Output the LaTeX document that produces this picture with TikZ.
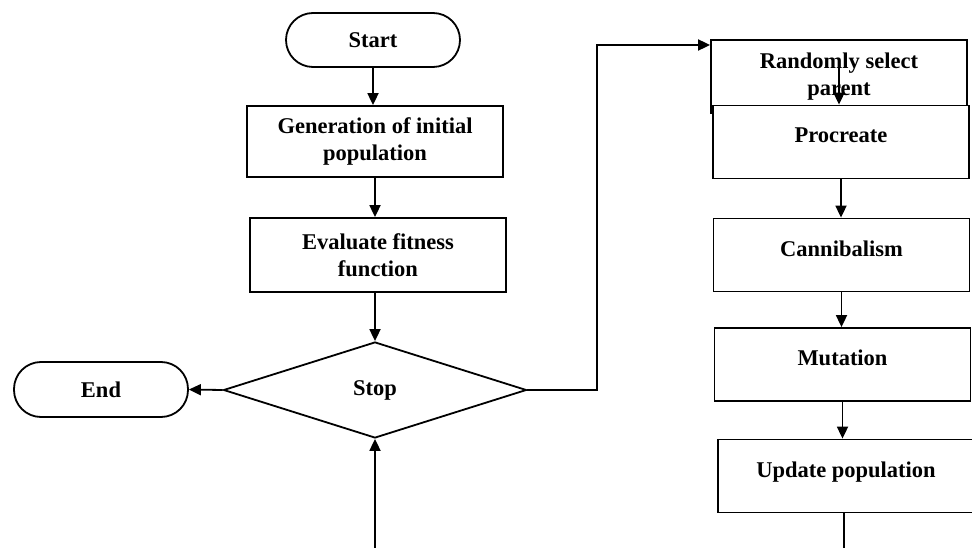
\documentclass[tikz,border=0pt]{standalone}
\usepackage{fontspec}
\setmainfont{Liberation Serif}
\usetikzlibrary{shapes.geometric,arrows.meta}

\begin{document}
\begin{tikzpicture}[x=1pt, y=-1pt, line width=1.8pt,
        >={Triangle[length=12pt,width=11pt]},
        every node/.style={font=\fontsize{22.5}{27}\selectfont\bfseries},
        pill/.style={draw, rounded corners=27pt, minimum width=174pt, minimum height=54pt, inner sep=0pt},
        box/.style={draw, fill=white, align=center, minimum width=256pt, minimum height=73pt, inner sep=0pt},
        onebox/.style={box, text depth=13pt}]

        \useasboundingbox (0,0) rectangle (972,548);

        \node[pill] (start) at (373,40) {Start};
        \node[box, minimum height=71pt] (gen) at (375,141.5) {Generation of initial\\population};
        \node[box, minimum height=74pt] (eval) at (378,255) {Evaluate fitness\\function};
        \node[draw, diamond, minimum width=303pt, minimum height=96pt, inner sep=0pt] (stop) at (375,390) {Stop};
        \node[pill, minimum height=55pt] (end) at (101,389.5) {End};

        \draw[->] (start.south) -- (start.south |- gen.north);
        \draw[->] (gen.south) -- (gen.south |- eval.north);
        \draw[->] (eval.south -| stop.north) -- (stop.north);
        \draw[->] (stop.west) -- (end.east);

        \node[box] (rand) at (839,76.5) {Randomly select\\parent};
        \foreach \name/\x/\y/\txt in {proc/841/142/Procreate, cann/841.5/255/Cannibalism,
                mut/842.5/364.5/Mutation, upd/846/476/Update population}
        {
                \node[onebox] (\name) at (\x,\y) {\txt};
        }

        \coordinate (turn) at (597,45);
        \draw[->] (stop.east) -| (turn) -- (turn -| rand.west);
        \coordinate (randin) at (839,66);
        \draw[->] (randin) -- (randin |- proc.north);
        \foreach \a/\b in {proc/cann, cann/mut, mut/upd}
        {
                \draw[->] (\a.south) -- (\a.south |- \b.north);
        }

        \coordinate (updout) at (844,548);
        \draw (updout |- upd.south) -- (updout);
        \coordinate (back) at (375,548);
        \draw[->] (back) -- (stop.south);

\end{tikzpicture}
\end{document}
